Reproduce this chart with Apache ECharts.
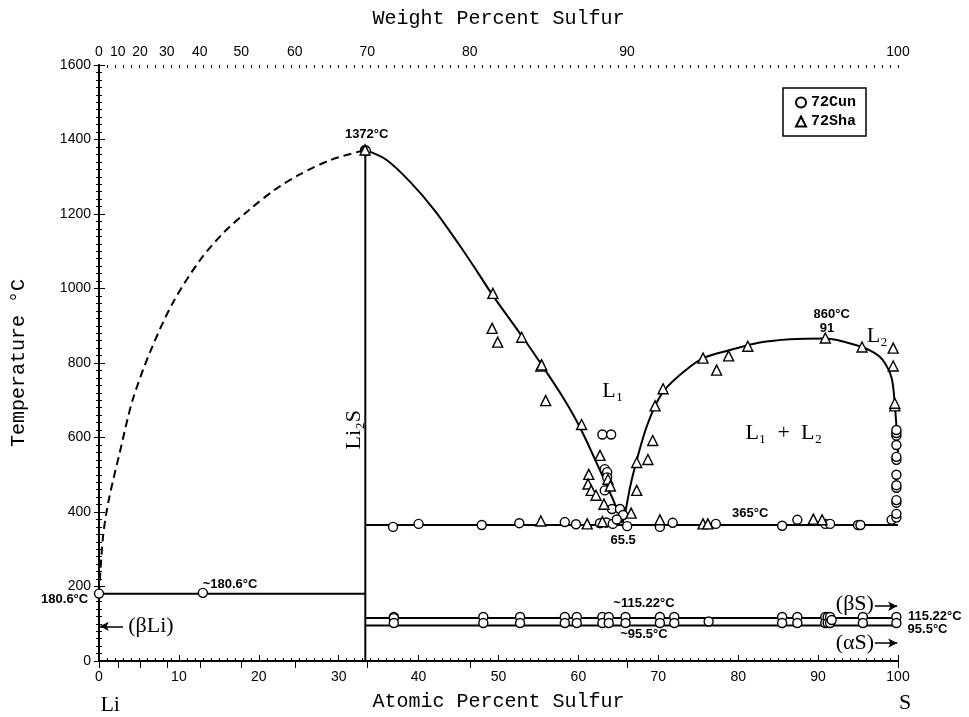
<!DOCTYPE html>
<html lang="en">
<head>
  <meta charset="UTF-8" />
  <title>Li-S phase diagram</title>
  <script src="https://cdn.jsdelivr.net/npm/echarts@6/dist/echarts.min.js"></script>
  <style>
    html, body { margin: 0; padding: 0; background: #fff; }
    #main { width: 969px; height: 717px; }
  </style>
</head>
<body>
  <div id="main"></div>
  <script>
  // ---- data (atomic % S, temperature in C) ----
  const wtTicks = [0, 10, 20, 30, 40, 50, 60, 70, 80, 90, 100];

  // dashed liquidus, Li side
  const liquidusLi = [[0, 181], [0.5, 333], [1.2, 430], [2.6, 560], [4.2, 700], [6.4, 830], [9.2, 960], [12.6, 1075], [15.6, 1150], [18.9, 1213], [22, 1265], [25.2, 1307], [29, 1345], [33.33, 1372]];
  // solid liquidus from Li2S down to the monotectic
  const liquidusL1 = [[33.33, 1372], [36, 1345], [39, 1285], [42, 1210], [45, 1120], [47.5, 1040], [49.3, 981], [53.1, 867], [55.5, 792], [58, 710], [60.2, 627], [63.1, 493], [64.6, 420], [65.5, 370]];
  // miscibility gap L1 + L2
  const gapDome = [[65.5, 370], [65.8, 392], [66.5, 470], [67.3, 539], [68.4, 620], [69.6, 685], [70.8, 728], [73.1, 775], [75.6, 813], [79, 835], [82.7, 855], [86.5, 864], [91, 866], [95.2, 845], [97, 828], [98.1, 808], [99.2, 760], [99.6, 688], [99.9, 600], [100, 560]];

  const li2sLine = [[33.33, 0], [33.33, 1372]];
  const liEutectic = [[0, 180.6], [33.33, 180.6]];
  const monotectic = [[33.33, 365], [100, 365]];
  const betaSLine = [[33.33, 115.22], [100, 115.22]];
  const alphaSLine = [[33.33, 95.5], [100, 95.5]];

  // 72Cun points (circles)
  const cunPoints = [
    [0, 181], [13, 183], [33.3, 1372], [33.4, 1369],
    [36.8, 360], [40, 368], [47.9, 365], [52.6, 370], [58.3, 373], [59.7, 367], [62.7, 370], [63.5, 372], [64.3, 368], [66.1, 362],
    [70.2, 360], [71.8, 371], [77.2, 368], [85.5, 363], [87.4, 379], [90.9, 368], [91.5, 368], [95, 365], [95.3, 365], [99.2, 379],
    [63.0, 608], [64.1, 608], [63.3, 515], [63.6, 507], [63.6, 493], [63.3, 458], [64.2, 408], [65.2, 408], [65.6, 392], [64.8, 380],
    [99.8, 385], [99.8, 395], [99.8, 425], [99.8, 432], [99.8, 465], [99.8, 472], [99.8, 500], [99.8, 540], [99.8, 548], [99.8, 580], [99.8, 605], [99.8, 612], [99.8, 620],
    [36.9, 118], [36.9, 115], [36.9, 102], [48.1, 118], [48.1, 102], [52.7, 118], [52.7, 102], [58.3, 118], [58.3, 102], [59.8, 118], [59.8, 102],
    [63.0, 118], [63.0, 102], [63.8, 118], [63.8, 102], [65.9, 118], [65.9, 102], [70.2, 118], [70.2, 102], [72.0, 118], [72.0, 102],
    [76.3, 106], [85.5, 118], [85.5, 102], [87.4, 118], [87.4, 102], [90.9, 118], [90.9, 102], [91.2, 118], [91.2, 102], [91.5, 118], [91.5, 102], [91.7, 110],
    [95.6, 118], [95.6, 102], [99.8, 118], [99.8, 102]
  ];

  // 72Sha points (triangles)
  const shaPoints = [
    [33.3, 1372],
    [49.3, 987], [49.2, 893], [49.9, 856], [52.9, 869], [55.3, 792], [55.4, 795], [55.9, 699], [60.4, 635],
    [62.7, 552], [61.3, 501], [61.2, 475], [61.6, 458], [62.2, 445], [63.2, 421], [63.7, 488], [64.0, 470],
    [66.6, 397], [67.3, 458], [67.3, 533], [68.7, 541], [69.3, 592], [69.6, 685], [70.6, 731],
    [75.6, 813], [77.3, 781], [78.8, 819], [81.2, 845], [90.9, 867], [95.5, 843], [99.4, 840], [99.4, 792], [99.6, 685], [99.6, 692],
    [55.3, 376], [61.1, 368], [63.0, 374], [70.2, 379], [75.6, 368], [76.2, 368], [89.4, 381], [90.5, 379]
  ];

  // text notes: [at%, T, text]
  const smallNotes = [
    [33.5, 1413, '1372°C'], [16.4, 205, '~180.6°C'], [-4.3, 165, '180.6°C'],
    [68.2, 155, '~115.22°C'], [68.2, 72, '~95.5°C'], [104.6, 121, '115.22°C'], [103.7, 86, '95.5°C'],
    [81.5, 395, '365°C'], [65.6, 325, '65.5'], [91.7, 931, '860°C'], [91.1, 893, '91']
  ];
  const phaseNotes = [
    [6.5, 93, '(βLi)'], [94.6, 152, '(βS)'], [94.6, 48, '(αS)'],
    [64.3, 725, 'L₁'], [97.4, 872, 'L₂'], [85.7, 611, 'L₁  +  L₂'],
    [1.4, -120, 'Li'], [100.9, -112, 'S']
  ];
  const li2sNote = [[31.9, 621, 'Li₂S']];
  const arrows = [
    [[3.0, 93], [0.1, 93]],
    [[97.1, 147], [99.9, 147]],
    [[97.1, 48], [99.9, 48]]
  ];

  function wtToAt(w) {
    const s = w / 32.06, l = (100 - w) / 6.941;
    return 100 * s / (s + l);
  }
  function atToWt(a) {
    const s = a * 32.06, l = (100 - a) * 6.941;
    return 100 * s / (s + l);
  }
  const wtPos = wtTicks.map(wtToAt);

  const chart = echarts.init(document.getElementById('main'));
  const black = '#000';
  const sansFont = '"Liberation Sans", Arial, sans-serif';
  const monoFont = '"Liberation Mono", "DejaVu Sans Mono", monospace';
  const serifFont = '"Liberation Serif", "DejaVu Serif", serif';

  function curve(data, dashed) {
    return {
      type: 'line', data: data, showSymbol: false, smooth: 0.3, silent: true,
      lineStyle: { color: black, width: 2, type: dashed ? [8, 5] : 'solid' }
    };
  }
  function straight(data) {
    return {
      type: 'line', data: data, showSymbol: false, silent: true,
      lineStyle: { color: black, width: 2 }
    };
  }
  function notes(list, textStyle, rotate) {
    return {
      type: 'scatter', symbolSize: 0, clip: false, silent: true, z: 5,
      itemStyle: { color: black, opacity: 1 },
      data: list.map(n => ({ value: [n[0], n[1]], name: n[2] })),
      label: Object.assign({
        show: true, position: 'inside', formatter: p => p.name,
        color: black, textBorderWidth: 0, textBorderColor: 'transparent', rotate: rotate || 0
      }, textStyle)
    };
  }

  chart.setOption({
    backgroundColor: '#fff',
    animation: false,
    grid: { left: 99, right: 71, top: 65, bottom: 52 },
    legend: {
      data: ['72Cun', '72Sha'],
      orient: 'vertical', left: 783, top: 88,
      padding: [7, 10, 7, 12], itemGap: 4, itemWidth: 10, itemHeight: 10,
      borderColor: black, borderWidth: 1.5, backgroundColor: '#fff',
      textStyle: { fontFamily: monoFont, fontSize: 15, fontWeight: 'bold', color: black }
    },
    xAxis: [
      {
        type: 'value', min: 0, max: 100, interval: 10, position: 'bottom',
        name: 'Atomic Percent Sulfur', nameLocation: 'middle', nameGap: 31,
        nameTextStyle: { fontFamily: monoFont, fontSize: 20, color: black },
        axisLine: { lineStyle: { color: black, width: 2 } },
        axisTick: { inside: true, length: 6, lineStyle: { color: black } },
        minorTick: { show: true, splitNumber: 10, length: 3, lineStyle: { color: black } },
        axisLabel: { fontFamily: sansFont, fontSize: 14, color: black, margin: 9 },
        splitLine: { show: false }
      },
      {
        type: 'value', min: 0, max: 100, position: 'top',
        name: 'Weight Percent Sulfur', nameLocation: 'middle', nameGap: 36,
        nameTextStyle: { fontFamily: monoFont, fontSize: 20, color: black },
        axisLine: { lineStyle: { color: black, width: 2 } },
        axisTick: { inside: true, length: 7, customValues: wtPos, lineStyle: { color: black } },
        axisLabel: {
          customValues: wtPos, fontFamily: sansFont, fontSize: 14, color: black, margin: 6,
          formatter: v => String(Math.round(atToWt(v)))
        },
        splitLine: { show: false }
      },
      {
        type: 'value', min: 0, max: 100, interval: 10, position: 'top',
        axisLine: { show: false },
        axisTick: { inside: true, length: 3, lineStyle: { color: black } },
        minorTick: { show: true, splitNumber: 10, length: 3, lineStyle: { color: black } },
        axisLabel: { show: false }, splitLine: { show: false }
      }
    ],
    yAxis: [
      {
        type: 'value', min: 0, max: 1600, interval: 200, position: 'left',
        name: 'Temperature °C', nameLocation: 'middle', nameGap: 70,
        nameTextStyle: { fontFamily: monoFont, fontSize: 20, color: black },
        axisLine: { show: true, lineStyle: { color: black, width: 2 } },
        axisTick: { show: true, length: 5, lineStyle: { color: black } },
        minorTick: { show: true, splitNumber: 10, length: 3, lineStyle: { color: black } },
        axisLabel: { fontFamily: sansFont, fontSize: 14, color: black, margin: 8, formatter: v => String(v) },
        splitLine: { show: false }
      },
      {
        type: 'value', min: 0, max: 1600, interval: 200, position: 'right',
        axisLine: { show: true, lineStyle: { color: black, width: 2 } },
        axisTick: { show: true, length: 6, lineStyle: { color: black } },
        minorTick: { show: true, splitNumber: 10, length: 3, lineStyle: { color: black } },
        axisLabel: { show: false }, splitLine: { show: false }
      }
    ],
    series: [
      curve(liquidusLi, true),
      curve(liquidusL1, false),
      curve(gapDome, false),
      straight(li2sLine),
      straight(liEutectic),
      straight(monotectic),
      straight(betaSLine),
      straight(alphaSLine),
      {
        name: '72Cun', type: 'scatter', data: cunPoints, symbol: 'circle', symbolSize: 9, z: 4,
        itemStyle: { color: '#fff', borderColor: black, borderWidth: 1.4, opacity: 1 }
      },
      {
        name: '72Sha', type: 'scatter', data: shaPoints, symbol: 'triangle', symbolSize: 10, z: 4,
        itemStyle: { color: '#fff', borderColor: black, borderWidth: 1.4, opacity: 1 }
      },
      notes(smallNotes, { fontFamily: sansFont, fontSize: 13, fontWeight: 'bold' }),
      notes(phaseNotes, { fontFamily: serifFont, fontSize: 22 }),
      notes(li2sNote, { fontFamily: serifFont, fontSize: 22 }, 90),
      {
        type: 'line', data: [], silent: true,
        markLine: {
          silent: true, symbol: ['none', 'arrow'], symbolSize: [7, 9],
          label: { show: false },
          lineStyle: { color: black, width: 1.5, type: 'solid' },
          data: arrows.map(a => [{ coord: a[0] }, { coord: a[1] }])
        }
      }
    ]
  });
  </script>
</body>
</html>
